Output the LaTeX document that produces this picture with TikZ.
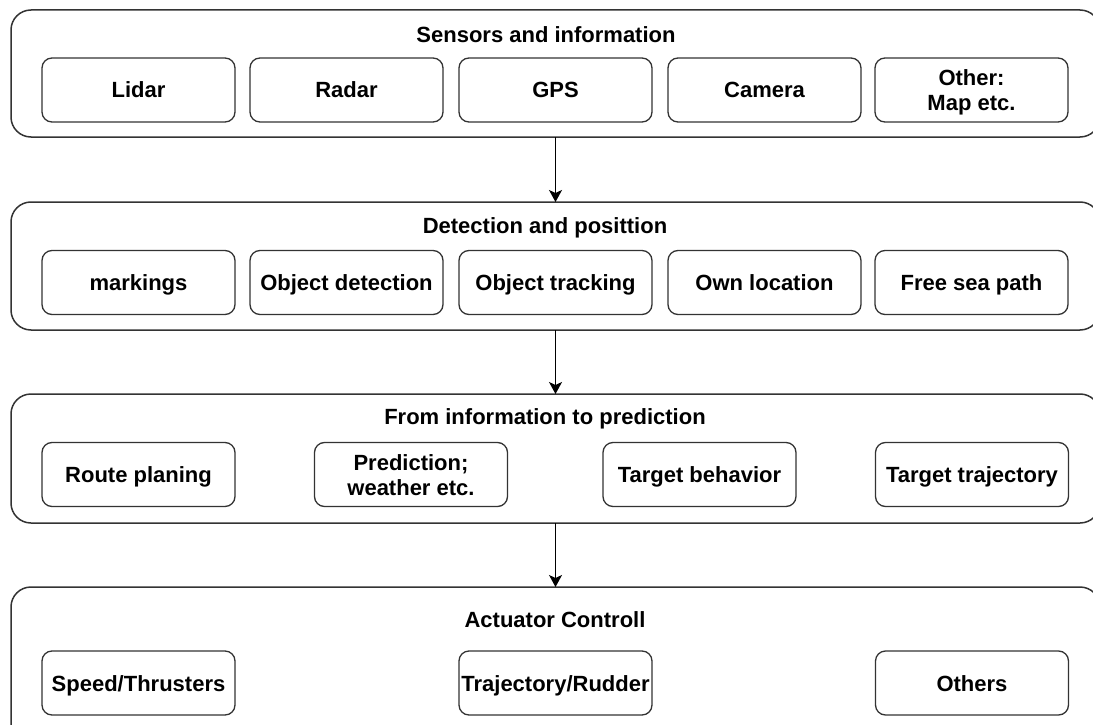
\documentclass[tikz,border=0pt]{standalone}
\usepackage{fontspec}
\setmainfont{Liberation Sans}
\usetikzlibrary{arrows.meta}
\tikzset{%
    layer/.style={draw=black!80,line width=1.5pt,rounded corners=20pt,minimum width=1089pt,inner sep=0pt,outer sep=0pt},
    box/.style={draw=black!80,line width=1.3pt,rounded corners=10pt,minimum width=193pt,minimum height=64pt,inner sep=0pt,align=center,font=\bfseries\fontsize{22}{25}\selectfont},
    block/.style={box,text height=16pt,text depth=0pt},
    twoline/.style={box,text height=41pt,text depth=0pt},
    heading/.style={inner sep=0pt,font=\bfseries\fontsize{22}{25}\selectfont},
    flow/.style={-{Stealth[length=12pt,width=13pt,inset=3pt]},line width=1.3pt},
}
\begin{document}
\begin{tikzpicture}[x=1pt,y=-1pt]
            \useasboundingbox (0,0) rectangle (1093,725);
            \fill[white] (0,0) rectangle (1093,725);
            \clip (0,0) rectangle (1093,725);

            %sensors
            \node[layer,minimum height=127pt] (sensors) at (555.5,73.5) {};
            \node[heading] (sensorsT) at (546,35) {Sensors and information};
            \node[block] (lidar) at (138.5,90) {Lidar};
            \node[block] (radar) at (346.5,90) {Radar};
            \node[block] (gps) at (555.5,90) {GPS};
            \node[block] (camera) at (764.5,90) {Camera};
            \node[twoline] (other) at (971.5,90) {Other:\\Map etc.};

            %detection
            \node[layer,minimum height=128pt] (detect) at (555.5,266) {};
            \node[heading] (detectT) at (545,228) {Detection and posittion};
            \node[block] (marks) at (138.5,282.5) {markings};
            \node[block] (objdet) at (346.5,282.5) {Object detection};
            \node[block] (objtrack) at (555.5,282.5) {Object tracking};
            \node[block] (ownloc) at (764.5,282.5) {Own location};
            \node[block] (seapath) at (971.5,282.5) {Free sea path};

            %prediction
            \node[layer,minimum height=129pt] (predict) at (555.5,458.5) {};
            \node[heading] (predictT) at (545,419) {From information to prediction};
            \node[block] (route) at (138.5,474.5) {Route planing};
            \node[twoline] (weather) at (411,474.5) {Prediction;\\weather etc.};
            \node[block] (behav) at (699.5,474.5) {Target behavior};
            \node[block] (traj) at (972,474.5) {Target trajectory};

            %actuators
            \node[layer,minimum height=158pt] (actuate) at (555.5,666) {};
            \node[heading] (actuateT) at (555,620) {Actuator Controll};
            \node[block] (speed) at (138.5,683) {Speed/Thrusters};
            \node[block] (rudder) at (555.5,683) {Trajectory/Rudder};
            \node[block] (others) at (972,683) {Others};

            %flow
            \draw[flow] (sensors.south) -- (detect.north);
            \draw[flow] (detect.south) -- (predict.north);
            \draw[flow] (predict.south) -- (actuate.north);
        \end{tikzpicture}
\end{document}
